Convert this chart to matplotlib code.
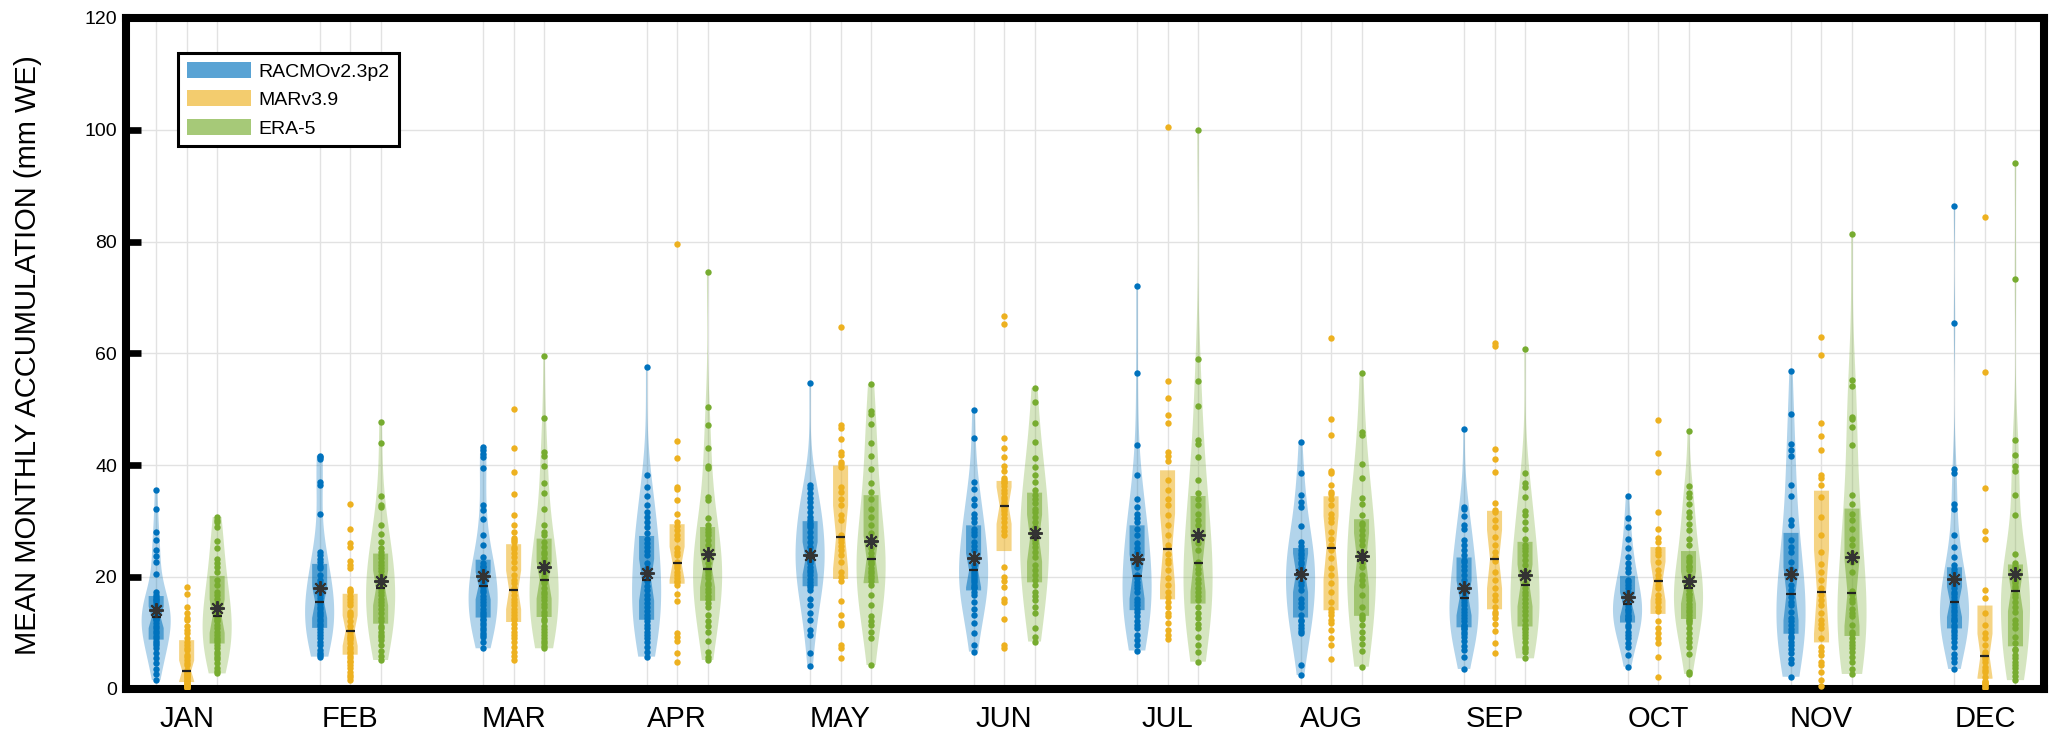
import numpy as np
import matplotlib
matplotlib.use('Agg')
import matplotlib.pyplot as plt
from matplotlib.patches import Polygon, Patch
import matplotlib.transforms as mtransforms

plt.rcParams['font.family'] = ['Liberation Sans', 'DejaVu Sans']

months = ['JAN', 'FEB', 'MAR', 'APR', 'MAY', 'JUN', 'JUL', 'AUG', 'SEP', 'OCT', 'NOV', 'DEC']
models = ['RACMOv2.3p2', 'MARv3.9', 'ERA-5']
y_ticks = [0, 20, 40, 60, 80, 100, 120]

# monthly mean accumulation (mm WE), one list per month
racmo = [
    [1.5, 2.6, 3.5, 4.5, 5.4, 6.3, 7.2, 7.7, 8.1, 8.5, 9.0, 9.4, 9.9, 10.3, 10.8, 11.2, 11.7, 12.2, 12.4, 12.6, 12.9, 13.3, 13.75, 14.0, 14.6, 15.0, 15.4, 15.8, 16.1, 16.4, 16.7, 17.3, 20.5, 22.7, 23.8, 24.8, 26.5, 28.0, 32.2, 35.5],
    [41.7, 41.1, 41.4, 37.0, 36.5, 31.3, 24.5, 23.9, 22.7, 23.2, 21.5, 20.3, 18.8, 17.6, 16.7, 15.7, 21.9, 19.5, 17.1, 16.2, 14.6, 13.75, 12.9, 12.0, 11.1, 15.2, 14.2, 13.3, 12.5, 11.5, 10.2, 9.0, 7.8, 6.9, 6.3, 5.7, 10.6, 9.6, 8.4, 6.0],
    [43.2, 42.6, 42.0, 41.4, 39.5, 32.9, 31.9, 30.4, 27.4, 25.7, 23.6, 21.8, 20.4, 18.6, 22.5, 21.2, 19.8, 19.2, 20.9, 22.0, 19.5, 18.9, 17.3, 16.1, 14.9, 13.75, 12.9, 18.2, 17.7, 16.6, 15.5, 14.3, 13.3, 11.8, 10.8, 9.9, 9.3, 7.2, 12.3, 11.3, 10.4, 9.6, 8.3, 12.5],
    [57.5, 38.2, 36.1, 34.5, 32.8, 30.7, 28.9, 27.8, 29.8, 31.5, 26.8, 25.4, 23.9, 22.4, 20.9, 19.6, 24.6, 21.6, 26.0, 20.2, 19.3, 17.6, 16.1, 14.6, 13.2, 18.4, 15.3, 12.6, 16.8, 13.9, 12.0, 10.8, 9.6, 8.4, 7.5, 5.7, 11.4, 10.2, 9.0, 6.6],
    [54.7, 36.5, 35.8, 34.9, 34.1, 33.3, 32.5, 31.6, 30.7, 30.2, 29.7, 28.9, 28.0, 27.1, 26.25, 25.4, 24.5, 23.6, 24.0, 29.3, 23.0, 21.8, 20.3, 18.5, 22.4, 21.2, 19.6, 19.0, 22.8, 20.8, 14.9, 13.45, 10.5, 9.6, 6.3, 4.05, 18.1, 17.6, 16.0, 12.2],
    [49.8, 44.8, 37.0, 35.7, 32.8, 31.3, 29.8, 30.5, 33.9, 28.6, 27.4, 26.25, 24.8, 23.4, 22.1, 21.4, 25.5, 28.0, 20.9, 19.4, 18.2, 20.2, 19.0, 18.6, 20.5, 19.8, 17.9, 16.7, 15.5, 14.3, 13.2, 11.7, 9.9, 7.8, 6.6, 17.2],
    [72.0, 56.5, 43.5, 38.2, 34.0, 32.5, 31.3, 29.8, 30.5, 28.6, 27.4, 26.0, 24.5, 23.3, 21.8, 20.4, 25.2, 22.5, 19.7, 18.5, 17.3, 16.1, 14.9, 19.0, 15.5, 17.9, 14.3, 13.75, 12.0, 10.8, 9.6, 8.7, 7.8, 6.8, 12.9, 11.4],
    [44.2, 38.6, 34.6, 33.3, 32.5, 29.0, 26.25, 25.5, 24.8, 23.9, 22.7, 21.5, 22.2, 23.3, 24.3, 21.0, 20.4, 19.1, 17.6, 16.1, 14.6, 13.2, 18.5, 15.3, 12.0, 10.8, 9.9, 4.2, 2.4, 11.4, 10.3, 12.2],
    [46.5, 32.5, 32.2, 30.9, 29.2, 28.6, 26.5, 25.7, 24.8, 23.9, 22.7, 21.2, 19.4, 17.9, 16.4, 18.6, 20.3, 22.0, 17.2, 23.0, 16.0, 14.9, 13.75, 12.6, 11.4, 15.4, 14.3, 13.2, 12.0, 11.1, 10.2, 9.3, 6.9, 5.7, 3.5, 10.6, 9.8, 8.5, 7.6, 10.8],
    [34.5, 30.5, 28.9, 26.8, 25.1, 23.6, 22.4, 20.9, 21.6, 19.4, 17.9, 16.1, 15.3, 18.6, 17.2, 16.6, 19.0, 15.6, 14.8, 13.75, 12.6, 14.3, 13.2, 12.2, 14.0, 13.0, 12.4, 11.4, 10.2, 9.0, 7.5, 6.0, 3.9, 11.0, 9.6, 8.2],
    [56.8, 49.2, 43.8, 42.6, 41.6, 36.4, 34.4, 30.1, 29.2, 26.5, 24.5, 22.7, 21.3, 19.7, 17.6, 25.3, 18.6, 20.5, 16.3, 14.9, 13.75, 12.6, 11.4, 10.2, 15.5, 12.0, 10.6, 9.0, 7.8, 6.3, 2.1, 8.4, 5.3, 4.5, 9.4, 7.0],
    [86.4, 65.4, 39.3, 38.5, 33.1, 32.2, 27.4, 25.4, 23.6, 22.1, 20.9, 19.3, 17.9, 16.4, 21.3, 18.6, 15.8, 20.2, 17.2, 16.9, 15.2, 13.75, 12.6, 11.4, 14.5, 13.1, 12.0, 11.0, 14.0, 12.3, 10.2, 9.0, 7.5, 6.1, 4.8, 3.5, 10.5, 9.6, 8.3, 5.5],
]

mar = [
    [18.2, 16.9, 14.6, 12.7, 12.3, 11.1, 9.9, 9.0, 10.5, 13.5, 7.8, 6.9, 6.0, 5.1, 4.2, 3.3, 8.3, 7.3, 5.6, 4.6, 2.4, 1.5, 3.0, 2.8, 2.6, 2.1, 1.8, 1.4, 1.3, 2.2, 1.0, 0.3, 0.1, 0.2, 0.4, 0.5, 0.6, 0.7, 0.8, 0.9],
    [33.1, 28.5, 26.1, 25.4, 22.9, 22.1, 17.8, 17.3, 21.6, 17.5, 16.1, 14.9, 13.75, 12.9, 12.0, 10.5, 15.5, 13.3, 11.2, 16.6, 10.2, 9.0, 8.1, 6.6, 9.6, 8.6, 7.4, 7.0, 9.3, 6.3, 5.4, 4.2, 3.0, 2.0, 5.8, 4.8, 3.6, 2.5, 1.6, 5.0],
    [50.1, 43.1, 38.75, 34.8, 31.1, 29.3, 26.25, 28.0, 27.0, 26.6, 25.4, 24.2, 22.7, 21.5, 20.3, 18.8, 23.5, 19.5, 17.9, 25.0, 17.4, 16.1, 14.9, 13.75, 12.6, 16.8, 15.5, 14.3, 13.2, 12.3, 10.8, 9.6, 8.4, 7.5, 6.6, 5.9, 5.1, 11.5, 10.2, 9.0],
    [79.5, 44.3, 41.25, 36.1, 35.7, 33.8, 31.3, 29.8, 28.3, 26.8, 25.1, 23.9, 22.6, 24.5, 27.5, 29.0, 22.2, 22.0, 21.5, 20.9, 20.3, 19.7, 19.2, 19.0, 18.5, 17.0, 15.7, 10.0, 9.3, 8.5, 6.3, 4.8],
    [64.7, 47.2, 46.6, 44.6, 42.3, 41.8, 40.2, 40.6, 39.6, 36.1, 35.2, 34.0, 32.9, 31.0, 30.1, 27.4, 26.8, 26.2, 25.5, 24.8, 23.9, 22.7, 20.9, 20.0, 19.2, 15.7, 13.2, 11.7, 11.4, 7.7, 7.2, 5.4],
    [66.6, 65.3, 44.8, 43.1, 41.4, 39.9, 38.9, 37.7, 37.4, 36.9, 36.7, 36.2, 35.5, 35.0, 34.3, 33.9, 33.4, 33.0, 32.5, 32.2, 31.8, 31.3, 30.5, 29.8, 28.9, 28.2, 27.4, 21.8, 20.0, 19.2, 18.1, 16.0, 15.4, 12.4, 7.8, 7.3],
    [100.5, 55.0, 52.0, 49.0, 47.5, 42.3, 41.7, 40.8, 37.3, 35.5, 34.0, 32.8, 31.0, 29.2, 27.4, 25.7, 24.1, 22.4, 21.2, 19.7, 18.5, 16.4, 23.0, 17.2, 14.6, 12.9, 11.7, 10.5, 9.6, 15.5, 13.6, 8.8],
    [62.7, 48.3, 45.3, 39.0, 38.6, 35.1, 36.5, 34.8, 34.0, 32.8, 31.3, 29.8, 28.0, 26.8, 25.6, 30.5, 24.8, 23.3, 21.5, 20.3, 18.8, 17.3, 15.5, 14.3, 13.2, 12.3, 11.7, 7.8, 5.3, 13.7, 10.5, 9.0],
    [61.8, 61.3, 42.9, 41.0, 38.75, 33.2, 32.0, 31.6, 28.9, 27.1, 25.7, 23.5, 30.2, 24.4, 22.8, 20.9, 19.4, 17.9, 16.7, 15.8, 14.6, 13.75, 12.6, 10.3, 8.2, 6.4, 13.4, 11.5],
    [48.1, 42.1, 38.75, 31.5, 27.0, 26.25, 28.5, 23.9, 22.7, 21.2, 25.0, 20.3, 24.5, 19.6, 19.2, 17.9, 16.7, 15.5, 14.6, 18.5, 16.1, 13.8, 12.0, 10.8, 9.9, 9.0, 8.1, 5.7, 2.1],
    [62.9, 59.7, 47.6, 45.2, 42.6, 38.2, 37.6, 36.5, 34.3, 30.7, 24.5, 22.2, 20.9, 19.4, 17.9, 27.5, 16.7, 14.9, 13.45, 12.3, 10.8, 9.0, 15.8, 11.5, 7.5, 6.0, 4.8, 4.2, 3.0, 1.5, 0.5, 6.8],
    [84.3, 56.7, 35.8, 28.2, 26.7, 17.6, 16.25, 13.45, 11.4, 9.9, 9.0, 7.8, 6.6, 6.1, 5.7, 4.8, 3.9, 2.9, 2.1, 5.2, 3.4, 1.4, 1.0, 0.6, 0.3, 0.1, 1.2, 0.8],
]

era5 = [
    [30.7, 30.1, 28.9, 26.4, 25.1, 23.1, 21.8, 20.9, 29.8, 22.5, 19.4, 18.5, 17.3, 16.1, 15.1, 14.2, 13.2, 13.6, 14.7, 16.8, 12.7, 12.0, 10.8, 9.6, 8.3, 9.1, 10.2, 11.4, 12.3, 8.7, 7.8, 6.6, 5.7, 4.5, 3.75, 2.7, 3.2, 5.2, 6.1, 7.2],
    [47.7, 44.0, 34.5, 32.9, 32.5, 29.2, 27.6, 25.1, 24.4, 26.3, 23.9, 22.7, 21.5, 20.3, 19.1, 18.2, 23.3, 21.0, 19.7, 22.1, 17.8, 16.1, 14.3, 12.6, 17.2, 15.4, 13.6, 12.0, 16.7, 14.9, 10.8, 9.6, 8.7, 7.8, 5.9, 5.1, 11.2, 10.2, 6.8, 9.2],
    [59.5, 48.5, 42.3, 41.7, 39.9, 36.8, 35.0, 32.2, 29.2, 28.0, 27.4, 26.25, 24.5, 21.8, 19.6, 25.3, 23.4, 22.6, 20.8, 20.2, 24.0, 21.3, 17.9, 16.4, 15.2, 13.75, 18.8, 17.2, 15.8, 14.5, 13.2, 19.2, 16.9, 12.0, 10.2, 9.0, 8.1, 7.2, 12.4, 11.2, 10.7, 9.5, 8.5, 7.6],
    [74.5, 50.4, 47.1, 43.0, 39.9, 39.5, 34.3, 33.7, 29.2, 30.5, 28.6, 27.4, 25.7, 24.5, 23.3, 21.6, 22.4, 26.5, 28.0, 24.0, 21.2, 19.7, 18.5, 17.3, 16.1, 20.4, 18.9, 17.8, 16.6, 20.8, 13.2, 12.0, 11.1, 10.2, 6.6, 5.7, 5.1, 14.5, 15.3, 8.5],
    [54.5, 49.6, 49.2, 47.4, 44.0, 41.7, 39.2, 36.7, 35.2, 34.0, 32.2, 30.7, 29.2, 26.8, 25.1, 23.5, 27.8, 24.2, 22.9, 21.5, 19.7, 22.2, 20.6, 21.0, 19.2, 20.1, 22.5, 18.5, 16.7, 12.9, 12.0, 11.4, 10.2, 9.0, 4.2, 15.0],
    [53.8, 51.25, 47.5, 44.2, 41.25, 39.6, 38.2, 37.0, 35.5, 34.0, 32.2, 30.7, 28.9, 27.3, 33.2, 31.5, 29.8, 34.6, 25.4, 23.6, 22.1, 20.3, 26.5, 24.5, 21.2, 19.5, 26.0, 18.5, 17.3, 15.8, 14.6, 13.45, 10.8, 9.3, 8.4, 16.5],
    [100.0, 59.0, 55.0, 50.5, 44.4, 43.8, 41.4, 37.3, 34.9, 34.0, 32.8, 31.3, 29.2, 27.0, 24.8, 22.6, 26.0, 30.2, 22.2, 20.6, 18.8, 17.3, 15.8, 21.4, 19.6, 16.6, 18.0, 14.6, 12.6, 10.8, 9.3, 7.8, 6.6, 4.8, 13.5, 11.5],
    [56.5, 45.9, 45.4, 40.1, 37.6, 34.1, 33.1, 31.0, 29.2, 27.4, 25.7, 23.5, 28.3, 26.5, 24.4, 29.6, 21.8, 20.3, 18.5, 16.7, 14.6, 13.2, 22.5, 19.4, 11.4, 10.2, 9.0, 6.7, 3.9, 12.4, 8.0, 12.8],
    [60.8, 38.5, 36.7, 36.1, 34.2, 31.7, 31.0, 29.8, 28.6, 26.8, 25.7, 23.9, 22.1, 19.9, 24.6, 21.0, 18.9, 23.0, 20.5, 25.2, 18.0, 16.1, 14.6, 13.2, 11.4, 17.3, 15.3, 12.3, 16.8, 13.9, 10.2, 9.0, 7.5, 5.4, 10.6, 9.6, 8.3, 6.5, 7.0, 10.8],
    [46.0, 36.2, 34.9, 34.3, 33.1, 31.6, 30.7, 29.5, 28.3, 26.8, 25.7, 22.7, 21.2, 19.3, 18.4, 23.5, 20.2, 22.0, 19.8, 21.7, 23.0, 18.9, 17.0, 15.8, 14.6, 13.75, 12.6, 16.4, 15.2, 17.7, 14.1, 13.2, 16.9, 12.3, 10.8, 9.0, 7.5, 3.0, 2.6, 11.8, 10.0, 8.3, 6.2, 12.0],
    [81.4, 55.2, 54.1, 48.6, 48.2, 46.8, 43.6, 34.7, 33.1, 31.3, 30.1, 28.6, 26.8, 25.7, 24.3, 22.7, 20.9, 17.4, 16.9, 15.5, 14.3, 12.9, 11.4, 10.2, 13.6, 16.0, 9.8, 9.0, 7.8, 6.6, 5.7, 2.6, 8.4, 4.8, 7.2, 3.5],
    [94.1, 73.3, 44.4, 41.8, 39.9, 39.0, 34.6, 31.0, 24.0, 22.4, 20.6, 18.8, 21.5, 19.7, 17.9, 22.0, 20.1, 18.3, 21.0, 19.2, 17.0, 15.5, 13.75, 12.3, 10.8, 9.3, 8.1, 14.5, 11.5, 16.3, 6.9, 5.4, 4.2, 3.0, 1.5, 6.0, 4.8, 3.6, 2.3, 7.0],
]

# ---------------- styling ----------------
colors = ['#0072BD', '#EDB120', '#77AC30']
show_violin = [True, False, True]
show_mean = [True, False, True]
offsets = [-0.1865, 0.0, 0.1865]
VW = 0.089      # violin half width (data units)
BW = 0.046      # box half width
NW = 0.6 * BW   # notch half width
BW_FACTOR = 1.3  # kernel bandwidth multiplier (smoother violins)

W, H = 2067, 744
fig = plt.figure(figsize=(W / 100, H / 100), dpi=100)
ax = fig.add_axes([126 / W, 1 - 688.5 / H, (2044 - 126) / W, (688.5 - 18) / H])
ax.set_xlim(0.629, 12.361)
ax.set_ylim(0, 120)

positions = []
for k, (data, col) in enumerate(zip([racmo, mar, era5], colors)):
    for m in range(12):
        x0 = m + 1 + offsets[k]
        positions.append(x0)
        d = np.asarray(data[m], float)
        n = d.size
        if show_violin[k]:
            sig = np.median(np.abs(d - np.median(d))) / 0.6745
            bw = BW_FACTOR * sig * (4.0 / (3.0 * n)) ** 0.2
            yy = np.linspace(d.min(), d.max(), 400)
            f = np.exp(-0.5 * ((yy[:, None] - d[None, :]) / bw) ** 2).sum(1)
            f = f / f.max() * VW
            ax.fill_betweenx(yy, x0 - f, x0 + f, facecolor=col, alpha=0.3,
                             lw=0, zorder=2)
        q1, med, q3 = np.percentile(d, [25, 50, 75], method='hazen')
        notch = 1.57 * (q3 - q1) / np.sqrt(n)
        lo = max(q1, med - notch)
        hi = min(q3, med + notch)
        verts = [(x0 - BW, q1), (x0 + BW, q1), (x0 + BW, lo), (x0 + NW, med),
                 (x0 + BW, hi), (x0 + BW, q3), (x0 - BW, q3), (x0 - BW, hi),
                 (x0 - NW, med), (x0 - BW, lo)]
        ax.add_patch(Polygon(verts, closed=True, facecolor=col, alpha=0.55,
                             lw=0, zorder=3))
        ax.plot(np.full(n, x0), d, 'o', ms=4.6, mfc=col, mec='none', zorder=4)
        ax.plot([x0 - NW, x0 + NW], [med, med], color='#222222', lw=1.6,
                zorder=5, solid_capstyle='butt')
        if show_mean[k]:
            ax.plot([x0], [d.mean()], marker=(8, 2, 0), ms=10.5, mec='#333333',
                    mew=1.4, ls='none', zorder=6)

# axes styling
for sp in ax.spines.values():
    sp.set_linewidth(5.8)
    sp.set_color('black')
ax.set_yticks(y_ticks)
ax.tick_params(axis='y', which='major', direction='in', length=11, width=4.8,
               left=True, right=False, labelsize=14, pad=6.5, colors='black')
ax.set_xticks(sorted(positions))
ax.set_xticklabels([])
ax.tick_params(axis='x', which='major', direction='in', length=2.5, width=1.0,
               top=True, bottom=True)
ax.grid(True, color='#e2e2e2', lw=1.0)
ax.set_axisbelow(True)

trans = mtransforms.blended_transform_factory(ax.transData, ax.transAxes)
for i, mname in enumerate(months):
    ax.text(i + 1, -0.0455, mname, transform=trans, ha='center', va='center',
            fontsize=21)

fig.text(28 / W, 1 - 355 / H, 'MEAN MONTHLY ACCUMULATION (mm WE)', rotation=90,
         ha='center', va='center', fontsize=21)

handles = [Patch(facecolor=c, alpha=0.65, edgecolor='none') for c in colors]
leg = ax.legend(handles, models, loc='upper left',
                bbox_to_anchor=(178 / W, 1 - 53 / H), bbox_transform=fig.transFigure,
                frameon=True, fancybox=False, edgecolor='black', framealpha=1,
                fontsize=14, handlelength=3.3, handleheight=0.9,
                handletextpad=0.4, labelspacing=0.5, borderpad=0.45,
                borderaxespad=0)
leg.get_frame().set_linewidth(2.2)

fig.savefig('out.png', dpi=100)
